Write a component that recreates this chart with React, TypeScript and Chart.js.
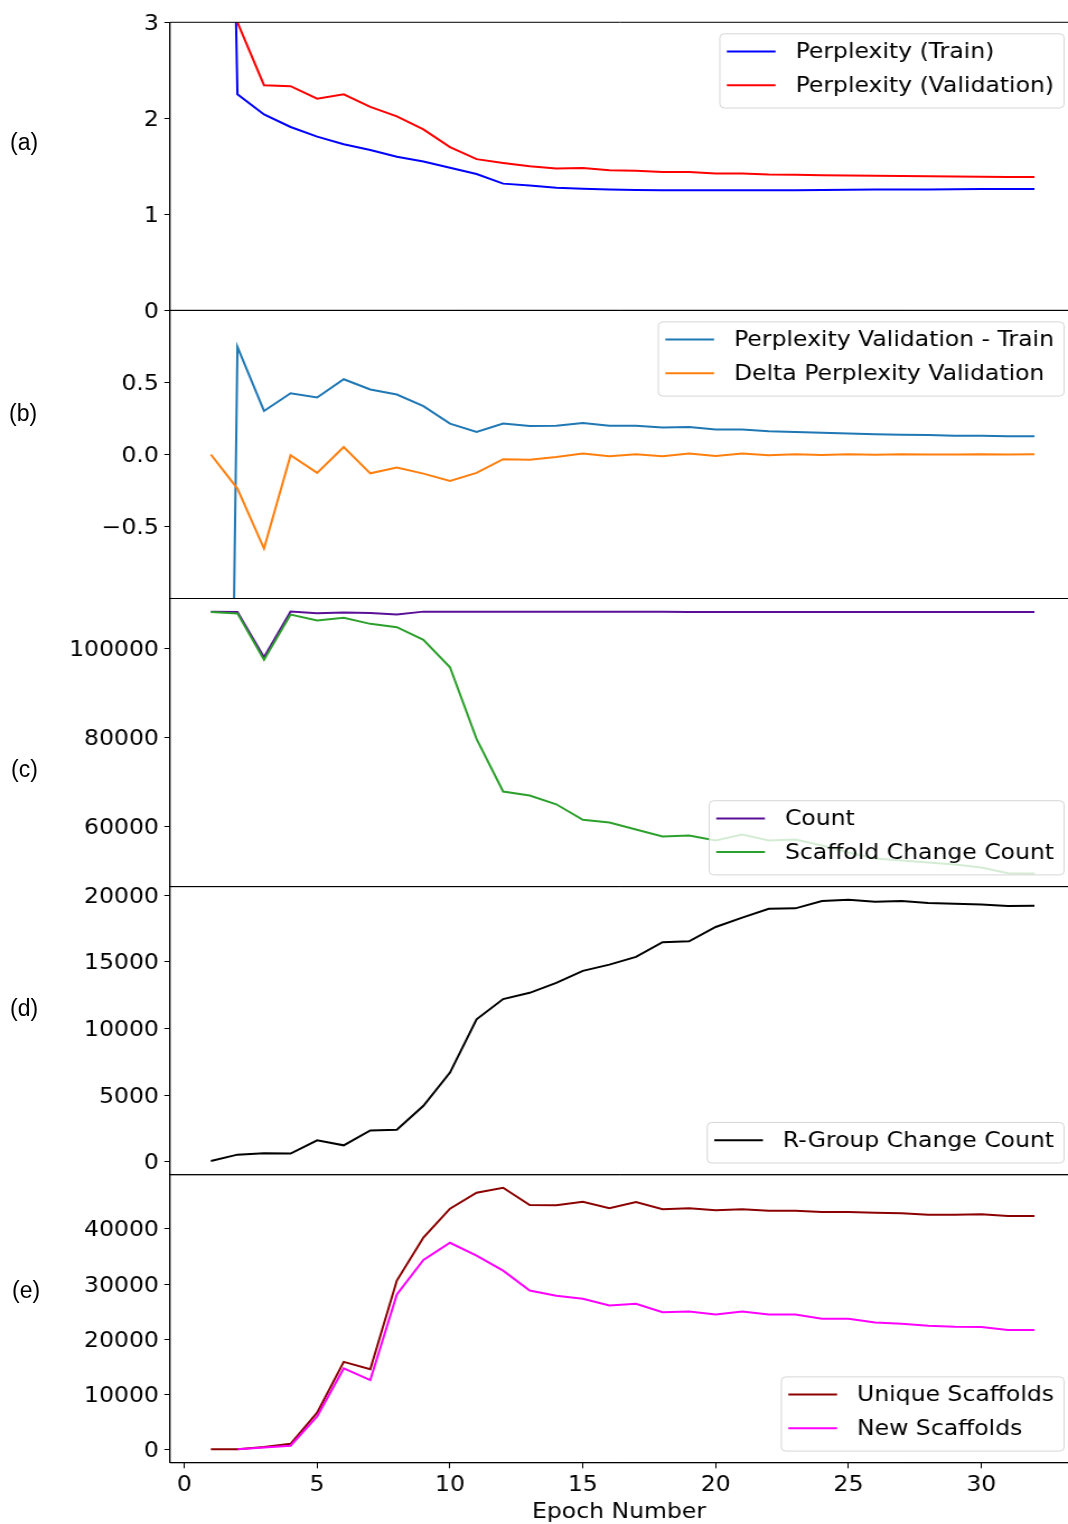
import React, { useEffect, useRef } from "react";
import { Chart, registerables } from "chart.js";

Chart.register(...registerables);

// ---------------- data ----------------
const epochs = [1, 2, 3, 4, 5, 6, 7, 8, 9, 10, 11, 12, 13, 14, 15, 16, 17, 18, 19, 20, 21, 22, 23, 24, 25, 26, 27, 28, 29, 30, 31, 32];

const perplexityTrain = [16.2, 2.25, 2.04, 1.91, 1.81, 1.73, 1.67, 1.6, 1.55, 1.486, 1.42, 1.32, 1.3, 1.278, 1.267, 1.258, 1.253, 1.252, 1.25, 1.25, 1.25, 1.251, 1.252, 1.254, 1.256, 1.258, 1.259, 1.26, 1.262, 1.263, 1.264, 1.264];
const perplexityValidation = [3.24, 3.0, 2.345, 2.335, 2.205, 2.25, 2.12, 2.02, 1.885, 1.7, 1.575, 1.535, 1.5, 1.478, 1.482, 1.46, 1.453, 1.44, 1.44, 1.426, 1.425, 1.415, 1.413, 1.407, 1.405, 1.403, 1.4, 1.397, 1.395, 1.392, 1.39, 1.389];

const validationMinusTrain = [-13.0, 0.746, 0.302, 0.425, 0.395, 0.522, 0.451, 0.416, 0.335, 0.214, 0.156, 0.214, 0.198, 0.2, 0.219, 0.2, 0.2, 0.187, 0.191, 0.173, 0.173, 0.161, 0.156, 0.15, 0.145, 0.14, 0.137, 0.135, 0.13, 0.13, 0.126, 0.126];
const deltaPerplexityValidation = [0.0, -0.237, -0.653, -0.006, -0.128, 0.052, -0.131, -0.091, -0.133, -0.184, -0.128, -0.033, -0.036, -0.017, 0.006, -0.012, 0.001, -0.012, 0.006, -0.01, 0.006, -0.005, 0.002, -0.003, 0.002, -0.002, 0.001, 0.0, -0.001, 0.002, 0.0, 0.001];

const count = [108300, 108200, 98040, 108300, 107930, 108100, 108000, 107640, 108300, 108300, 108300, 108300, 108300, 108300, 108300, 108280, 108260, 108250, 108240, 108230, 108220, 108210, 108200, 108200, 108190, 108190, 108190, 108190, 108190, 108190, 108190, 108190];
const scaffoldChangeCount = [108200, 107900, 97460, 107640, 106290, 106900, 105550, 104800, 101950, 95800, 79700, 67870, 66970, 65000, 61500, 60900, 59330, 57750, 57970, 56850, 58200, 56850, 57080, 55730, 54160, 52810, 52360, 51910, 51460, 50790, 49510, 49440];

const rGroupChangeCount = [50, 524, 622, 600, 1596, 1221, 2345, 2397, 4195, 6690, 10690, 12210, 12680, 13430, 14330, 14800, 15380, 16480, 16550, 17625, 18330, 19000, 19025, 19573, 19675, 19525, 19573, 19423, 19373, 19320, 19198, 19223];

const uniqueScaffolds = [100, 100, 480, 1080, 6720, 15910, 14590, 30630, 38430, 43660, 46540, 47440, 44320, 44270, 44920, 43730, 44860, 43550, 43730, 43370, 43550, 43300, 43300, 43060, 43060, 42940, 42820, 42580, 42580, 42640, 42340, 42340];
const newScaffolds = [null, 100, 400, 720, 6000, 14720, 12610, 28110, 34360, 37480, 35140, 32430, 28830, 27870, 27330, 26130, 26430, 24920, 25050, 24500, 25050, 24500, 24500, 23730, 23730, 23060, 22820, 22460, 22280, 22220, 21680, 21680];

// ticks
const xTickValues = [0, 5, 10, 15, 20, 25, 30];
const xTickLabels = ["0", "5", "10", "15", "20", "25", "30"];
const yTicksA = [0, 1, 2, 3];
const yLabelsA = ["0", "1", "2", "3"];
const yTicksB = [-0.5, 0.0, 0.5];
const yLabelsB = ["\u22120.5", "0.0", "0.5"];
const yTicksC = [60000, 80000, 100000];
const yLabelsC = ["60000", "80000", "100000"];
const yTicksD = [0, 5000, 10000, 15000, 20000];
const yLabelsD = ["0", "5000", "10000", "15000", "20000"];
const yTicksE = [0, 10000, 20000, 30000, 40000];
const yLabelsE = ["0", "10000", "20000", "30000", "40000"];

const panelLetters = ["(a)", "(b)", "(c)", "(d)", "(e)"];

// ---------------- layout ----------------
const PAGE_W = 1068;
const PAGE_H = 1524;
const CW = 954; // canvas logical width, stretched horizontally to page width
const S = PAGE_W / CW;
const PLOT_LEFT = 170 / S;
const EDGES = [22.3, 310.4, 598.5, 886.6, 1174.7, 1462.8];
const X_MIN = -0.538;
const X_MAX = 33.262;
const FONT_SIZE = 21;
const FONT_FAMILY = "'DejaVu Sans', sans-serif";
const LETTER_POS = [
  { left: 10, cy: 142 },
  { left: 9, cy: 413 },
  { left: 11, cy: 769 },
  { left: 10, cy: 1008 },
  { left: 12, cy: 1290 },
];

type Series = { label: string; values: (number | null)[]; color: string };
type Panel = {
  yMin: number;
  yMax: number;
  yTicks: number[];
  yLabels: string[];
  legendLoc: "upper" | "lower";
  series: Series[];
};

const panels: Panel[] = [
  {
    yMin: 0, yMax: 3, yTicks: yTicksA, yLabels: yLabelsA, legendLoc: "upper",
    series: [
      { label: "Perplexity (Train)", values: perplexityTrain, color: "#0000ff" },
      { label: "Perplexity (Validation)", values: perplexityValidation, color: "#ff0000" },
    ],
  },
  {
    yMin: -1, yMax: 1, yTicks: yTicksB, yLabels: yLabelsB, legendLoc: "upper",
    series: [
      { label: "Perplexity Validation - Train", values: validationMinusTrain, color: "#1f77b4" },
      { label: "Delta Perplexity Validation", values: deltaPerplexityValidation, color: "#ff7f0e" },
    ],
  },
  {
    yMin: 46500, yMax: 111250, yTicks: yTicksC, yLabels: yLabelsC, legendLoc: "lower",
    series: [
      { label: "Count", values: count, color: "#5a1096" },
      { label: "Scaffold Change Count", values: scaffoldChangeCount, color: "#2ca02c" },
    ],
  },
  {
    yMin: -984, yMax: 20660, yTicks: yTicksD, yLabels: yLabelsD, legendLoc: "lower",
    series: [{ label: "R-Group Change Count", values: rGroupChangeCount, color: "#000000" }],
  },
  {
    yMin: -2372, yMax: 49812, yTicks: yTicksE, yLabels: yLabelsE, legendLoc: "lower",
    series: [
      { label: "Unique Scaffolds", values: uniqueScaffolds, color: "#8b0000" },
      { label: "New Scaffolds", values: newScaffolds, color: "#ff00ff" },
    ],
  },
];

// ---------------- plugins ----------------
const framePlugin = {
  id: "mplFrame",
  afterDatasetsDraw(chart: any) {
    const { ctx, chartArea: a } = chart;
    ctx.save();
    ctx.strokeStyle = "#000";
    ctx.lineWidth = 1;
    ctx.beginPath();
    ctx.moveTo(a.left, a.top);
    ctx.lineTo(a.right + 2, a.top);
    ctx.moveTo(a.left, a.bottom);
    ctx.lineTo(a.right + 2, a.bottom);
    ctx.moveTo(a.left, a.top);
    ctx.lineTo(a.left, a.bottom);
    ctx.stroke();
    ctx.restore();
  },
};

const legendPlugin = {
  id: "mplLegend",
  afterDatasetsDraw(chart: any, _args: any, opts: any) {
    const items: { label: string; color: string }[] = opts.items || [];
    if (!items.length) return;
    const { ctx, chartArea } = chart;
    ctx.save();
    ctx.font = `${FONT_SIZE}px ${FONT_FAMILY}`;
    const textW = Math.max(...items.map((i) => ctx.measureText(i.label).width));
    const padL = 7 / S, handle = 48.7 / S, gap = 20 / S, padR = 10 / S;
    const right = 1064 / S;
    const w = padL + handle + gap + textW + padR;
    const left = right - w;
    const pitch = 33.7;
    const h = 40.5 + pitch * (items.length - 1);
    const top = opts.loc === "upper" ? chartArea.top + 11.5 : chartArea.bottom - 11.7 - h;
    const r = 4;
    ctx.beginPath();
    ctx.moveTo(left + r, top);
    ctx.lineTo(left + w - r, top);
    ctx.quadraticCurveTo(left + w, top, left + w, top + r);
    ctx.lineTo(left + w, top + h - r);
    ctx.quadraticCurveTo(left + w, top + h, left + w - r, top + h);
    ctx.lineTo(left + r, top + h);
    ctx.quadraticCurveTo(left, top + h, left, top + h - r);
    ctx.lineTo(left, top + r);
    ctx.quadraticCurveTo(left, top, left + r, top);
    ctx.closePath();
    ctx.fillStyle = "rgba(255,255,255,0.8)";
    ctx.fill();
    ctx.strokeStyle = "rgba(204,204,204,0.8)";
    ctx.lineWidth = 1;
    ctx.stroke();
    items.forEach((it, i) => {
      const y = top + 17.7 + pitch * i;
      ctx.strokeStyle = it.color;
      ctx.lineWidth = 2;
      ctx.beginPath();
      ctx.moveTo(left + padL, y);
      ctx.lineTo(left + padL + handle, y);
      ctx.stroke();
      ctx.fillStyle = "#000";
      ctx.textAlign = "left";
      ctx.textBaseline = "middle";
      ctx.fillText(it.label, left + padL + handle + gap, y + 1);
    });
    ctx.restore();
  },
};

function zeroPad(scale: any) {
  scale.paddingLeft = 0;
  scale.paddingRight = 0;
  scale.paddingTop = 0;
  scale.paddingBottom = 0;
}

function makeConfig(panel: Panel, index: number): any {
  const isLast = index === panels.length - 1;
  const top = EDGES[index];
  const bottom = EDGES[index + 1];
  const n = panel.series.length;
  const font = { family: FONT_FAMILY, size: FONT_SIZE };
  return {
    type: "line",
    data: {
      datasets: panel.series.map((s, i) => ({
        label: s.label,
        data: epochs.map((e, j) => ({ x: e, y: s.values[j] })),
        borderColor: s.color,
        backgroundColor: s.color,
        borderWidth: 2,
        pointRadius: 0,
        pointHoverRadius: 0,
        tension: 0,
        fill: false,
        spanGaps: false,
        order: n - i,
      })),
    },
    options: {
      animation: false,
      responsive: false,
      maintainAspectRatio: false,
      events: [],
      layout: {
        padding: { left: 0, right: 0, top: top, bottom: isLast ? 0 : PAGE_H - bottom },
      },
      plugins: {
        legend: { display: false },
        tooltip: { enabled: false },
        mplLegend: { items: panel.series.map((s) => ({ label: s.label, color: s.color })), loc: panel.legendLoc },
      },
      scales: {
        x: {
          type: "linear",
          min: X_MIN,
          max: X_MAX,
          display: isLast,
          afterBuildTicks: (scale: any) => {
            scale.ticks = xTickValues.map((v) => ({ value: v }));
          },
          afterFit: (scale: any) => {
            scale.height = isLast ? PAGE_H - EDGES[EDGES.length - 1] : 0;
            zeroPad(scale);
          },
          ticks: {
            autoSkip: false,
            maxRotation: 0,
            minRotation: 0,
            padding: 4.5,
            color: "#000",
            font,
            callback: (_v: any, i: number) => xTickLabels[i],
          },
          grid: { drawOnChartArea: false, drawTicks: true, tickLength: 5.5, color: "#000", lineWidth: 1 },
          border: { display: true, color: "#000", width: 1 },
          title: {
            display: true,
            text: "Epoch Number",
            color: "#000",
            font: { family: FONT_FAMILY, size: FONT_SIZE, lineHeight: 1.1 },
            padding: { top: 0, bottom: 0 },
          },
        },
        y: {
          type: "linear",
          min: panel.yMin,
          max: panel.yMax,
          afterBuildTicks: (scale: any) => {
            scale.ticks = panel.yTicks.map((v) => ({ value: v }));
          },
          afterFit: (scale: any) => {
            scale.width = PLOT_LEFT;
            zeroPad(scale);
          },
          ticks: {
            autoSkip: false,
            padding: 5,
            labelOffset: 2,
            color: "#000",
            font,
            callback: (_v: any, i: number) => panel.yLabels[i],
          },
          grid: { drawOnChartArea: false, drawTicks: true, tickLength: 5, color: "#000", lineWidth: 1 },
          border: { display: true, color: "#000", width: 1 },
        },
      },
    },
    plugins: [framePlugin, legendPlugin],
  };
}

function PanelCanvas({ panel, index }: { panel: Panel; index: number }) {
  const ref = useRef<HTMLCanvasElement | null>(null);
  useEffect(() => {
    if (!ref.current) return;
    const chart = new Chart(ref.current, makeConfig(panel, index));
    return () => chart.destroy();
  }, [panel, index]);
  return (
    <canvas
      ref={ref}
      width={CW}
      height={PAGE_H}
      style={{
        position: "absolute",
        left: 0,
        top: 0,
        width: CW,
        height: PAGE_H,
        transform: `scaleX(${S})`,
        transformOrigin: "0 0",
      }}
    />
  );
}

export default function App() {
  return (
    <div
      style={{
        position: "absolute",
        left: 0,
        top: 0,
        width: PAGE_W,
        height: PAGE_H,
        overflow: "hidden",
        background: "#fff",
      }}
    >
      {panels.map((p, i) => (
        <PanelCanvas key={i} panel={p} index={i} />
      ))}
      {panelLetters.map((t, i) => (
        <div
          key={t}
          style={{
            position: "absolute",
            left: LETTER_POS[i].left,
            top: LETTER_POS[i].cy - 14,
            height: 28,
            lineHeight: "28px",
            fontFamily: "'Liberation Sans', Arial, sans-serif",
            fontSize: 23,
            color: "#000",
            whiteSpace: "nowrap",
          }}
        >
          {t}
        </div>
      ))}
    </div>
  );
}
